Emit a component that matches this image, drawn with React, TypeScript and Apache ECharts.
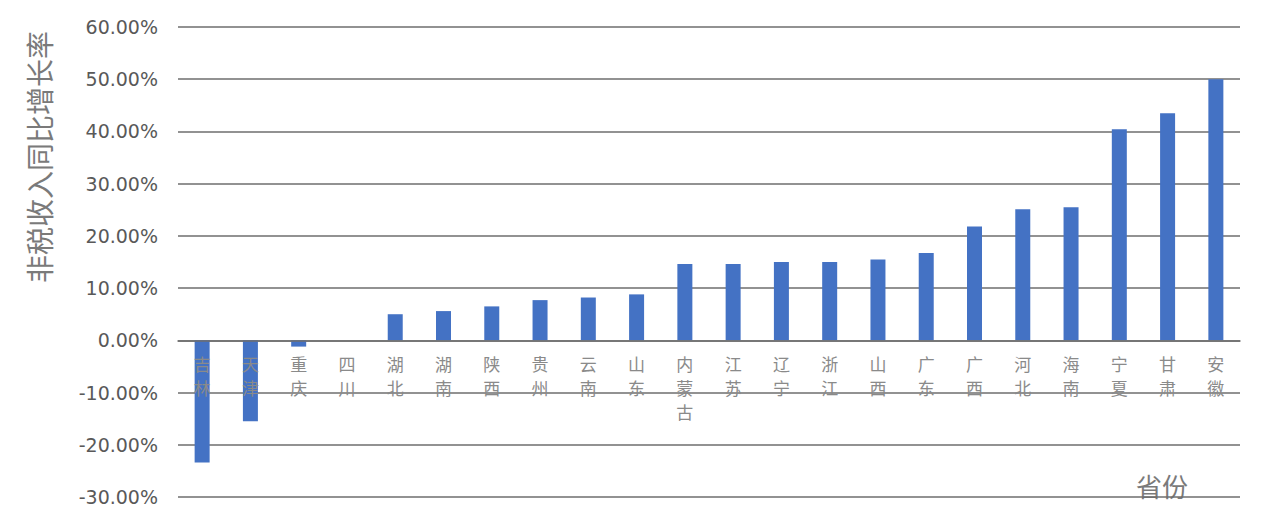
import React, { useEffect, useRef } from "react";
import * as echarts from "echarts";

const categories = ["吉林", "天津", "重庆", "四川", "湖北", "湖南", "陕西", "贵州", "云南", "山东", "内蒙古", "江苏", "辽宁", "浙江", "山西", "广东", "广西", "河北", "海南", "宁夏", "甘肃", "安徽"];
const growth = [-23.4, -15.5, -1.2, 0, 5.0, 5.6, 6.5, 7.7, 8.2, 8.8, 14.6, 14.6, 15.0, 15.0, 15.5, 16.7, 21.8, 25.1, 25.5, 40.4, 43.5, 50.0];
const yAxisTitle = "非税收入同比增长率";
const xAxisTitle = "省份";

const FONT = "'Noto Sans CJK SC', 'Noto Sans', sans-serif";
const NUM_FONT = "'DejaVu Sans', 'Noto Sans', sans-serif";
const Y_MIN = -30;
const Y_MAX = 60;

export default function App() {
  const ref = useRef<HTMLDivElement>(null);
  useEffect(() => {
    if (!ref.current) return;
    const chart = echarts.init(ref.current, undefined, { renderer: "svg" });
    const top = 27;
    const bottom = 26;
    const plotH = 523 - top - bottom;
    const zeroOffset = -(plotH * (0 - Y_MIN)) / (Y_MAX - Y_MIN);
    chart.setOption({
      animation: false,
      backgroundColor: "#ffffff",
      textStyle: { fontFamily: FONT },
      grid: { left: 178, right: 30, top, bottom, containLabel: false },
      xAxis: {
        type: "category",
        data: categories,
        z: 5,
        offset: zeroOffset,
        axisLine: { onZero: false, lineStyle: { color: "#6e6e6e", width: 1.5 } },
        axisTick: { show: false },
        axisLabel: {
          interval: 0,
          color: "#8a8a8a",
          fontSize: 17,
          lineHeight: 24,
          margin: 11,
          fontFamily: FONT,
          formatter: (v: string) => v.split("").join("\n"),
        },
      },
      yAxis: {
        type: "value",
        min: Y_MIN,
        max: Y_MAX,
        interval: 10,
        axisLine: { show: false },
        axisTick: { show: false },
        axisLabel: {
          color: "#595959",
          fontSize: 19,
          margin: 20,
          fontFamily: NUM_FONT,
          formatter: (v: number) => v.toFixed(2) + "%",
        },
        splitLine: { lineStyle: { color: "#6e6e6e", width: 1.5 } },
      },
      series: [
        {
          type: "bar",
          data: growth,
          barWidth: 15,
          itemStyle: { color: "#4472C4" },
        },
      ],
      graphic: [
        {
          type: "text",
          x: 39,
          y: 157,
          rotation: Math.PI / 2,
          style: {
            text: yAxisTitle,
            fill: "#7a7a7a",
            font: `28px ${FONT}`,
            align: "center",
            verticalAlign: "middle",
          },
        },
        {
          type: "text",
          x: 1162,
          y: 485,
          style: {
            text: xAxisTitle,
            fill: "#7a7a7a",
            font: `26px ${FONT}`,
            align: "center",
            verticalAlign: "middle",
          },
        },
      ],
    });
    return () => chart.dispose();
  }, []);
  return <div ref={ref} style={{ position: "fixed", left: 0, top: 0, width: 1270, height: 523 }} />;
}
